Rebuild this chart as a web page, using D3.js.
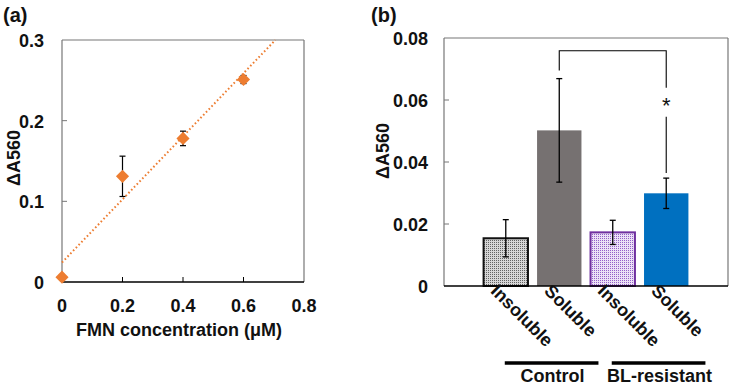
<!DOCTYPE html>
<html>
<head>
<meta charset="utf-8">
<script src="https://cdn.jsdelivr.net/npm/d3@7"></script>
<style>
  body { margin: 0; background: #fff; }
  svg text { font-family: "Liberation Sans", Arial, sans-serif; font-weight: bold; fill: #111; }
</style>
</head>
<body>
<div id="canvas"></div>
<script>
// panel (a): FMN standard curve
const fmnConc = [0, 0.2, 0.4, 0.6];
const fmnAbs = [0.006, 0.131, 0.178, 0.251];
const fmnErr = [0.0, 0.025, 0.009, 0.005];
const aXTicks = [0, 0.2, 0.4, 0.6, 0.8];
const aYTicks = [0, 0.1, 0.2, 0.3];

// panel (b): bars
const bCategories = ["Insoluble", "Soluble", "Insoluble ", "Soluble "];
const bValues = [0.0154, 0.0502, 0.0173, 0.0299];
const bErrors = [0.006, 0.0167, 0.0039, 0.0049];
const bGroups = ["Control", "BL-resistant"];
const bYTicks = [0, 0.02, 0.04, 0.06, 0.08];

const width = 731, height = 387;
const fs = "18px";
const svg = d3.select("#canvas").append("svg").attr("width", width).attr("height", height);

const defs = svg.append("defs");
function dotPattern(id, bg, dot) {
  const p = defs.append("pattern").attr("id", id).attr("patternUnits", "userSpaceOnUse")
    .attr("width", 2).attr("height", 2);
  p.append("rect").attr("width", 2).attr("height", 2).attr("fill", bg);
  p.append("rect").attr("width", 1).attr("height", 1).attr("fill", dot);
}
dotPattern("grayDots", "#d6d6d6", "#626262");
dotPattern("purpleDots", "#ece2f6", "#9460c8");

// ---------- (a) ----------
const ax = d3.scaleLinear().domain([0, 0.8]).range([62, 304]);
const ay = d3.scaleLinear().domain([0, 0.3]).range([282, 40]);
const ga = svg.append("g");

ga.append("text").attr("x", 3).attr("y", 22).style("font-size", "20px").text("(a)");

// frame
ga.append("line").attr("x1", ax(0)).attr("x2", ax(0.8)).attr("y1", ay(0.3)).attr("y2", ay(0.3)).attr("stroke", "#777").attr("stroke-width", 1.2);
ga.append("line").attr("x1", ax(0.8)).attr("x2", ax(0.8)).attr("y1", ay(0)).attr("y2", ay(0.3)).attr("stroke", "#777").attr("stroke-width", 1.2);
ga.append("line").attr("x1", ax(0)).attr("x2", ax(0)).attr("y1", ay(0)).attr("y2", ay(0.3)).attr("stroke", "#777").attr("stroke-width", 1.2);

// y ticks (inside)
ga.selectAll(".ayt").data(aYTicks.slice(1, 3)).enter().append("line")
  .attr("x1", ax(0)).attr("x2", ax(0) + 5).attr("y1", d => ay(d)).attr("y2", d => ay(d))
  .attr("stroke", "#777").attr("stroke-width", 1);
ga.selectAll(".ayl").data(aYTicks).enter().append("text")
  .attr("x", 44).attr("y", d => ay(d) + 7).attr("text-anchor", "end")
  .style("font-size", fs).text(d => d === 0 ? "0" : d3.format(".1f")(d));

// bottom axis
ga.append("line").attr("x1", ax(0)).attr("x2", ax(0.8)).attr("y1", ay(0)).attr("y2", ay(0)).attr("stroke", "#000").attr("stroke-width", 1.3);
ga.selectAll(".axt").data(aXTicks.slice(1, 4)).enter().append("line")
  .attr("x1", d => ax(d)).attr("x2", d => ax(d)).attr("y1", ay(0)).attr("y2", ay(0) - 5)
  .attr("stroke", "#000").attr("stroke-width", 1);
ga.selectAll(".axl").data(aXTicks).enter().append("text")
  .attr("x", d => ax(d)).attr("y", 312).attr("text-anchor", "middle")
  .style("font-size", fs).text(d => d === 0 ? "0" : d3.format(".1f")(d));
ga.append("text").attr("x", 179).attr("y", 336).attr("text-anchor", "middle")
  .style("font-size", fs).text("FMN concentration (\u03bcM)");
ga.append("text").attr("transform", "translate(20,158) rotate(-90)").attr("text-anchor", "middle")
  .style("font-size", fs).text("\u0394A560");

// linear fit
const mx = d3.mean(fmnConc), my = d3.mean(fmnAbs);
const slope = d3.sum(fmnConc, (x, i) => (x - mx) * (fmnAbs[i] - my)) / d3.sum(fmnConc, x => (x - mx) ** 2);
const icpt = my - slope * mx;
const xEnd = (0.3 - icpt) / slope;
ga.append("line").attr("x1", ax(0)).attr("y1", ay(icpt)).attr("x2", ax(xEnd)).attr("y2", ay(0.3))
  .attr("stroke", "#ed7d31").attr("stroke-width", 2).attr("stroke-dasharray", "1.6,2.4");

// error bars
fmnConc.forEach((c, i) => {
  if (fmnErr[i] <= 0) return;
  const x = ax(c);
  ga.append("line").attr("x1", x).attr("x2", x).attr("y1", ay(fmnAbs[i] - fmnErr[i])).attr("y2", ay(fmnAbs[i] + fmnErr[i])).attr("stroke", "#000").attr("stroke-width", 1.2);
  [fmnAbs[i] - fmnErr[i], fmnAbs[i] + fmnErr[i]].forEach(v => {
    ga.append("line").attr("x1", x - 3).attr("x2", x + 3).attr("y1", ay(v)).attr("y2", ay(v)).attr("stroke", "#000").attr("stroke-width", 1.2);
  });
});
ga.selectAll(".pt").data(fmnConc).enter().append("path")
  .attr("d", d3.symbol(d3.symbolDiamond2, 110))
  .attr("transform", (d, i) => `translate(${ax(d)},${ay(fmnAbs[i])})`)
  .attr("fill", "#ed7d31");

// ---------- (b) ----------
const bx = d3.scaleBand().domain(bCategories).range([444, 728]).paddingInner(0.17).paddingOuter(0.74);
const by = d3.scaleLinear().domain([0, 0.08]).range([286, 38]);
const gb = svg.append("g");

gb.append("text").attr("x", 371).attr("y", 22).style("font-size", "20px").text("(b)");

gb.append("line").attr("x1", 444).attr("x2", 728).attr("y1", by(0.08)).attr("y2", by(0.08)).attr("stroke", "#777").attr("stroke-width", 1.2);
gb.append("line").attr("x1", 728).attr("x2", 728).attr("y1", by(0)).attr("y2", by(0.08)).attr("stroke", "#777").attr("stroke-width", 1.2);
gb.append("line").attr("x1", 444).attr("x2", 444).attr("y1", by(0)).attr("y2", by(0.08)).attr("stroke", "#777").attr("stroke-width", 1.2);
gb.selectAll(".byt").data(bYTicks.slice(1, 4)).enter().append("line")
  .attr("x1", 444).attr("x2", 449).attr("y1", d => by(d)).attr("y2", d => by(d))
  .attr("stroke", "#777").attr("stroke-width", 1);
gb.selectAll(".byl").data(bYTicks).enter().append("text")
  .attr("x", 428).attr("y", d => by(d) + 7).attr("text-anchor", "end")
  .style("font-size", fs).text(d => d === 0 ? "0" : d3.format(".2f")(d));
gb.append("text").attr("transform", "translate(389,151) rotate(-90)").attr("text-anchor", "middle")
  .style("font-size", fs).text("\u0394A560");

const fills = ["url(#grayDots)", "#767171", "url(#purpleDots)", "#0070c0"];
const strokes = ["#111", "#767171", "#7030a0", "#0070c0"];
gb.selectAll(".bar").data(bCategories).enter().append("rect")
  .attr("x", d => bx(d)).attr("width", bx.bandwidth())
  .attr("y", (d, i) => by(bValues[i])).attr("height", (d, i) => by(0) - by(bValues[i]))
  .attr("fill", (d, i) => fills[i]).attr("stroke", (d, i) => strokes[i])
  .attr("stroke-width", (d, i) => i % 2 === 0 ? 2 : 0);

gb.append("line").attr("x1", 444).attr("x2", 728).attr("y1", by(0)).attr("y2", by(0)).attr("stroke", "#000").attr("stroke-width", 1.3);

bCategories.forEach((c, i) => {
  const x = bx(c) + bx.bandwidth() / 2;
  const lo = by(bValues[i] - bErrors[i]), hi = by(bValues[i] + bErrors[i]);
  gb.append("line").attr("x1", x).attr("x2", x).attr("y1", lo).attr("y2", hi).attr("stroke", "#000").attr("stroke-width", 1.3);
  [lo, hi].forEach(y => gb.append("line").attr("x1", x - 3).attr("x2", x + 3).attr("y1", y).attr("y2", y).attr("stroke", "#000").attr("stroke-width", 1.3));
  gb.append("text").attr("transform", `translate(${x - 16},${292}) rotate(45)`)
    .style("font-size", fs).text(c.trim());
});

// significance bracket
const xs1 = bx(bCategories[1]) + bx.bandwidth() / 2;
const xs2 = bx(bCategories[3]) + bx.bandwidth() / 2;
const yTop = by(0.0759);
gb.append("path").attr("d", `M${xs1},${by(bValues[1] + bErrors[1]) - 8}V${yTop}H${xs2}V${yTop + 37}`)
  .attr("fill", "none").attr("stroke", "#000").attr("stroke-width", 1.1);
gb.append("line").attr("x1", xs2).attr("x2", xs2).attr("y1", yTop + 66).attr("y2", by(bValues[3] + bErrors[3]) - 5)
  .attr("stroke", "#000").attr("stroke-width", 1.1);
gb.append("text").attr("x", xs2).attr("y", yTop + 62).attr("text-anchor", "middle")
  .style("font-size", "22px").style("font-weight", "normal").text("*");

// group labels
bGroups.forEach((g, gi) => {
  const c0 = bCategories[gi * 2], c1 = bCategories[gi * 2 + 1];
  const x0 = bx(c0) + bx.bandwidth() / 2 - 1, x1 = bx(c1) + bx.bandwidth() + 17;
  gb.append("line").attr("x1", x0).attr("x2", x1).attr("y1", 363).attr("y2", 363).attr("stroke", "#000").attr("stroke-width", 3.5);
  gb.append("text").attr("x", (x0 + x1) / 2 + 1).attr("y", 382).attr("text-anchor", "middle")
    .style("font-size", fs).text(g);
});
</script>
</body>
</html>
